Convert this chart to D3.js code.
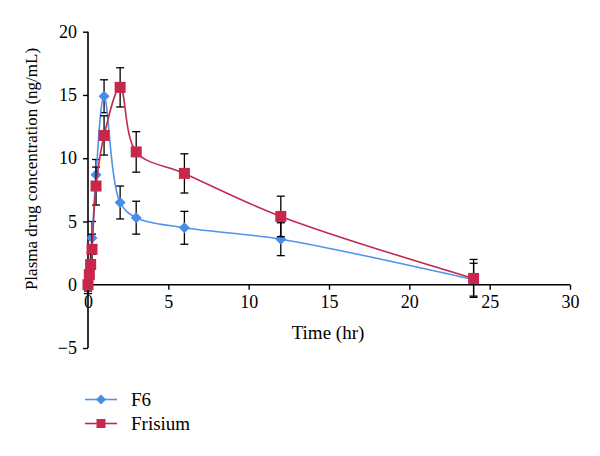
<!DOCTYPE html>
<html><head><meta charset="utf-8">
<script src="https://cdn.jsdelivr.net/npm/d3@7"></script>
<style>body{margin:0;background:#fff}svg{display:block}text{font-family:"Liberation Serif","DejaVu Serif",serif;fill:#000}</style>
</head><body><svg id="c" width="600" height="456"></svg>
<script>
// Data
const seriesNames = ["F6", "Frisium"];
const f6Time = [0, 0.25, 0.5, 1, 2, 3, 6, 12, 24];
const f6Conc = [0, 3.7, 8.7, 14.9, 6.5, 5.3, 4.5, 3.6, 0.4];
const f6SD   = [0.5, 1.3, 1.2, 1.3, 1.3, 1.3, 1.3, 1.3, 1.3];
const frTime = [0, 0.083, 0.167, 0.25, 0.5, 1, 2, 3, 6, 12, 24];
const frConc = [0, 0.8, 1.6, 2.8, 7.8, 11.8, 15.6, 10.5, 8.8, 5.4, 0.5];
const frSD   = [0.7, 0.8, 0.9, 1.2, 1.5, 1.55, 1.55, 1.6, 1.55, 1.6, 1.5];
const xTicks = [0, 5, 10, 15, 20, 25, 30];
const yTicks = [-5, 0, 5, 10, 15, 20];

const svg = d3.select("#c");
const x = d3.scaleLinear().domain([0, 30]).range([88, 570]);
const y = d3.scaleLinear().domain([-5, 20]).range([348, 31.7]);

// axes
const yAxis = svg.append("g").attr("transform", `translate(${x(0)},0)`)
  .call(d3.axisLeft(y).tickValues(yTicks).tickSize(5).tickPadding(6).tickFormat(d => d < 0 ? "\u22125" : d));
const xAxis = svg.append("g").attr("transform", `translate(0,${y(0)})`)
  .call(d3.axisBottom(x).tickValues(xTicks).tickSize(5).tickPadding(5));
[yAxis, xAxis].forEach(g => {
  g.select(".domain").attr("stroke", "#000").attr("stroke-width", 1.6);
  g.selectAll(".tick line").attr("stroke", "#000").attr("stroke-width", 1.4);
  g.selectAll(".tick text").style("font-family", '"Liberation Serif",serif').style("font-size", "18px").attr("fill", "#000");
});
yAxis.select(".domain").attr("d", `M-0,${y(-5)}V${y(20)}`);
xAxis.select(".domain").attr("d", `M${x(0)},0H${x(30)}`);

// titles
svg.append("text").attr("x", 328).attr("y", 339).attr("text-anchor", "middle")
  .style("font-size", "19px").text("Time (hr)");
svg.append("text").attr("transform", "translate(37,169) rotate(-90)").attr("text-anchor", "middle")
  .style("font-size", "17px").text("Plasma drug concentration (ng/mL)");

const series = [
  {name: seriesNames[0], t: f6Time, c: f6Conc, sd: f6SD, line: "#4f93ea", fill: "#4a8cea", shape: "diamond"},
  {name: seriesNames[1], t: frTime, c: frConc, sd: frSD, line: "#c22a4c", fill: "#c8264b", shape: "square"}
];

function marker(g, shape, cx, cy, s, color) {
  if (shape === "diamond") {
    g.append("path").attr("d", `M${cx},${cy - s / 2}L${cx + s / 2},${cy}L${cx},${cy + s / 2}L${cx - s / 2},${cy}Z`).attr("fill", color);
  } else {
    g.append("rect").attr("x", cx - s / 2).attr("y", cy - s / 2).attr("width", s).attr("height", s).attr("fill", color);
  }
}

const line = d3.line().x(d => x(d[0])).y(d => y(d[1])).curve(d3.curveCatmullRom.alpha(0.5));

series.forEach(s => {
  const g = svg.append("g");
  const pts = s.t.map((t, i) => [t, s.c[i], s.sd[i]]);
  // error bars
  pts.forEach(p => {
    const px = x(p[0]);
    g.append("line").attr("x1", px).attr("x2", px).attr("y1", y(p[1] - p[2])).attr("y2", y(p[1] + p[2])).attr("stroke", "#000").attr("stroke-width", 1.3);
    [p[1] - p[2], p[1] + p[2]].forEach(v => g.append("line").attr("x1", px - 4).attr("x2", px + 4).attr("y1", y(v)).attr("y2", y(v)).attr("stroke", "#000").attr("stroke-width", 1.3));
  });
  g.append("path").datum(pts).attr("d", line).attr("fill", "none").attr("stroke", s.line).attr("stroke-width", 1.6);
  pts.forEach(p => marker(g, s.shape, x(p[0]), y(p[1]), s.shape === "diamond" ? 11 : 11, s.fill));
});

// legend
series.forEach((s, i) => {
  const ly = 399.5 + i * 24;
  const g = svg.append("g");
  g.append("line").attr("x1", 85).attr("x2", 117).attr("y1", ly).attr("y2", ly).attr("stroke", s.line).attr("stroke-width", 1.6);
  marker(g, s.shape, 101, ly, s.shape === "diamond" ? 10 : 9, s.fill);
  g.append("text").attr("x", 131).attr("y", ly + 6).style("font-size", "19px").text(s.name);
});
</script></body></html>
